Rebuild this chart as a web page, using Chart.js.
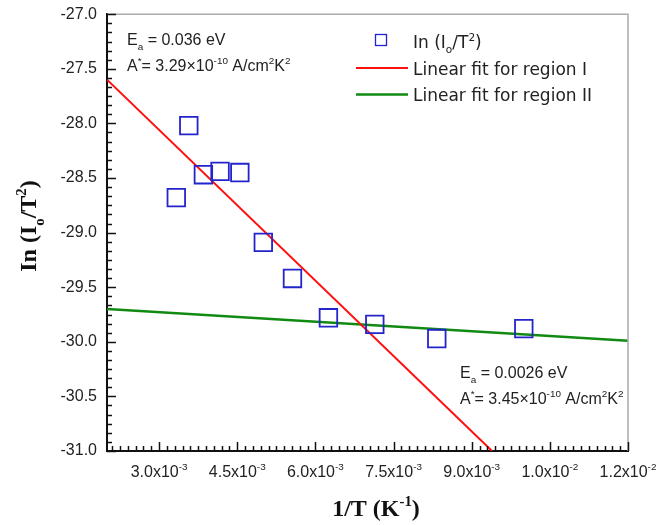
<!DOCTYPE html>
<html><head><meta charset="utf-8">
<script src="https://cdn.jsdelivr.net/npm/chart.js@4/dist/chart.umd.min.js"></script>
<style>html,body{margin:0;padding:0;background:#fff;overflow:hidden}</style>
</head><body>
<canvas id="c" width="658" height="525"></canvas>
<script>
// ---- data ----
const invT = [0.00333, 0.00357, 0.00385, 0.00417, 0.00455, 0.00500, 0.00556, 0.00625, 0.00714, 0.00833, 0.01000];
const lnIoT2 = [-28.68, -28.02, -28.47, -28.44, -28.45, -29.09, -29.42, -29.78, -29.84, -29.97, -29.88];
const fit1X = [0.00200, 0.00939];
const fit1Y = [-27.60, -31.00];
const fit2X = [0.00200, 0.01200];
const fit2Y = [-29.70, -29.99];
const xTickValues = [0.0030, 0.0045, 0.0060, 0.0075, 0.0090, 0.0105, 0.0120];
const xTickMantissa = ['3.0', '4.5', '6.0', '7.5', '9.0', '1.0', '1.2'];
const xTickExponent = ['-3', '-3', '-3', '-3', '-3', '-2', '-2'];
const yTickValues = [-31.0, -30.5, -30.0, -29.5, -29.0, -28.5, -28.0, -27.5, -27.0];
const seriesLabels = ['In (Iₒ/T²)', 'Linear fit for region I', 'Linear fit for region II'];

const SANS = "'Liberation Sans', Arial, sans-serif";
const SERIF = "'Liberation Serif', 'Times New Roman', serif";
const LEG = "'DejaVu Sans', Verdana, sans-serif";

function pts(xs, ys){ return xs.map((v,i)=>({x:v, y:ys[i]})); }

function segWidth(ctx, segs, size, family, weight){
  let w = 0;
  for (const s of segs){
    const fs = (s.sub||s.sup) ? size*0.62 : size;
    ctx.font = `${weight} ${fs}px ${family}`;
    w += ctx.measureText(s.t).width;
  }
  return w;
}
function rich(ctx, x, y, segs, size, family, weight, color){
  let cx = x;
  ctx.fillStyle = color;
  ctx.textBaseline = 'alphabetic';
  ctx.textAlign = 'left';
  for (const s of segs){
    const fs = (s.sub||s.sup) ? size*0.62 : size;
    ctx.font = `${weight} ${fs}px ${family}`;
    const dy = s.sub ? size*0.32 : (s.sup ? -size*0.42 : 0);
    ctx.fillText(s.t, cx, y+dy);
    cx += ctx.measureText(s.t).width;
  }
}

const decor = {
  id: 'decor',
  afterDraw(chart){
    const {ctx, chartArea:a, scales:{x, y}} = chart;
    ctx.save();
    // top/right frame
    ctx.strokeStyle = '#ababab'; ctx.lineWidth = 1.5;
    ctx.beginPath(); ctx.moveTo(a.left, a.top); ctx.lineTo(a.right, a.top); ctx.lineTo(a.right, a.bottom); ctx.stroke();
    // inward ticks
    ctx.strokeStyle = '#111'; ctx.lineWidth = 1.5;
    for (let k = -6; k <= 60; k++){
      const v = 0.003 + k*0.00015;
      if (v < x.min - 1e-9 || v > x.max + 1e-9) continue;
      const px = Math.round(x.getPixelForValue(v)) + 0.5;
      const major = (k % 10 === 0);
      ctx.beginPath(); ctx.moveTo(px, a.bottom); ctx.lineTo(px, a.bottom - (major ? 9 : 5)); ctx.stroke();
    }
    for (let k = 0; k <= 48; k++){
      const v = -31 + k*(0.5/6);
      const py = Math.round(y.getPixelForValue(v)) + 0.5;
      const major = (k % 6 === 0);
      ctx.beginPath(); ctx.moveTo(a.left, py); ctx.lineTo(a.left + (major ? 9 : 5), py); ctx.stroke();
    }
    // x tick labels with superscript exponents, placed by the x scale
    xTickValues.forEach((v, i) => {
      const segs = [{t: xTickMantissa[i] + 'x10'}, {t: xTickExponent[i], sup: 1}];
      const w = segWidth(ctx, segs, 16, SANS, 'normal');
      rich(ctx, x.getPixelForValue(v) - w/2, 477, segs, 16, SANS, 'normal', '#222');
    });
    // annotations
    const c = '#222';
    rich(ctx, 127, 45, [{t:'E'},{t:'a',sub:1},{t:' = 0.036 eV'}], 16, SANS, 'normal', c);
    rich(ctx, 127, 71, [{t:'A'},{t:'*',sup:1},{t:'= 3.29×10'},{t:'-10',sup:1},{t:' A/cm'},{t:'2',sup:1},{t:'K'},{t:'2',sup:1}], 16, SANS, 'normal', c);
    rich(ctx, 460, 378, [{t:'E'},{t:'a',sub:1},{t:' = 0.0026 eV'}], 16, SANS, 'normal', c);
    rich(ctx, 460, 404, [{t:'A'},{t:'*',sup:1},{t:'= 3.45×10'},{t:'-10',sup:1},{t:' A/cm'},{t:'2',sup:1},{t:'K'},{t:'2',sup:1}], 16, SANS, 'normal', c);
    // legend
    const ds = chart.data.datasets;
    ctx.strokeStyle = ds[0].borderColor; ctx.lineWidth = 1.3;
    ctx.strokeRect(375.5, 34.5, 11, 11);
    rich(ctx, 413, 48, [{t:'In ('},{t:'I'},{t:'o',sub:1},{t:'/T'},{t:'2',sup:1},{t:')'}], 17, LEG, 'normal', c);
    ctx.strokeStyle = ds[1].borderColor; ctx.lineWidth = 2;
    ctx.beginPath(); ctx.moveTo(356, 68); ctx.lineTo(408, 68); ctx.stroke();
    rich(ctx, 413, 75, [{t:ds[1].label}], 17, LEG, 'normal', c);
    ctx.strokeStyle = ds[2].borderColor; ctx.lineWidth = 2.5;
    ctx.beginPath(); ctx.moveTo(356, 94.5); ctx.lineTo(408, 94.5); ctx.stroke();
    rich(ctx, 413, 101, [{t:ds[2].label}], 17, LEG, 'normal', c);
    // axis titles
    const xt = [{t:'1/T (K'},{t:'-1',sup:1},{t:')'}];
    const wx = segWidth(ctx, xt, 24, SERIF, 'bold');
    rich(ctx, 376 - wx/2, 516, xt, 24, SERIF, 'bold', '#111');
    const yt = [{t:'In (I'},{t:'o',sub:1},{t:'/T'},{t:'2',sup:1},{t:')'}];
    const wy = segWidth(ctx, yt, 24, SERIF, 'bold');
    ctx.translate(36, 226); ctx.rotate(-Math.PI/2);
    rich(ctx, -wy/2, 0, yt, 24, SERIF, 'bold', '#111');
    ctx.restore();
  }
};

new Chart(document.getElementById('c'), {
  type: 'scatter',
  data: {
    datasets: [
      { label: seriesLabels[0], data: pts(invT, lnIoT2), pointStyle: 'rect', pointRadius: 12.4, pointHoverRadius: 12.4,
        borderColor: '#2424cc', backgroundColor: 'rgba(0,0,0,0)', pointBorderWidth: 1.8, showLine: false },
      { label: seriesLabels[1], data: pts(fit1X, fit1Y), showLine: true, borderColor: '#ff1010', borderWidth: 2,
        pointRadius: 0, pointHoverRadius: 0 },
      { label: seriesLabels[2], data: pts(fit2X, fit2Y), showLine: true, borderColor: '#118a11', borderWidth: 2.5,
        pointRadius: 0, pointHoverRadius: 0 }
    ]
  },
  options: {
    responsive: false, animation: false, devicePixelRatio: 1,
    layout: { padding: { left: 0, top: 13, right: 30, bottom: 0 } },
    plugins: { legend: { display: false }, tooltip: { enabled: false } },
    scales: {
      x: {
        type: 'linear', min: 0.002, max: 0.012,
        afterBuildTicks: s => { s.ticks = xTickValues.map(v => ({value: v})); },
        afterFit: s => { s.height = 74; s.paddingLeft = 0; s.paddingRight = 0; },
        grid: { display: false, drawTicks: false },
        border: { display: true, color: '#111', width: 2 },
        ticks: { display: false }
      },
      y: {
        type: 'linear', min: -31, max: -27,
        afterBuildTicks: s => { s.ticks = yTickValues.map(v => ({value: v})); },
        afterFit: s => { s.width = 107; s.paddingTop = 0; s.paddingBottom = 0; },
        grid: { display: false, drawTicks: false },
        border: { display: true, color: '#111', width: 2 },
        ticks: { autoSkip: false, padding: 10, color: '#222', font: { family: SANS, size: 16 },
          callback: v => Number(v).toFixed(1) }
      }
    }
  },
  plugins: [decor]
});
</script>
</body></html>
